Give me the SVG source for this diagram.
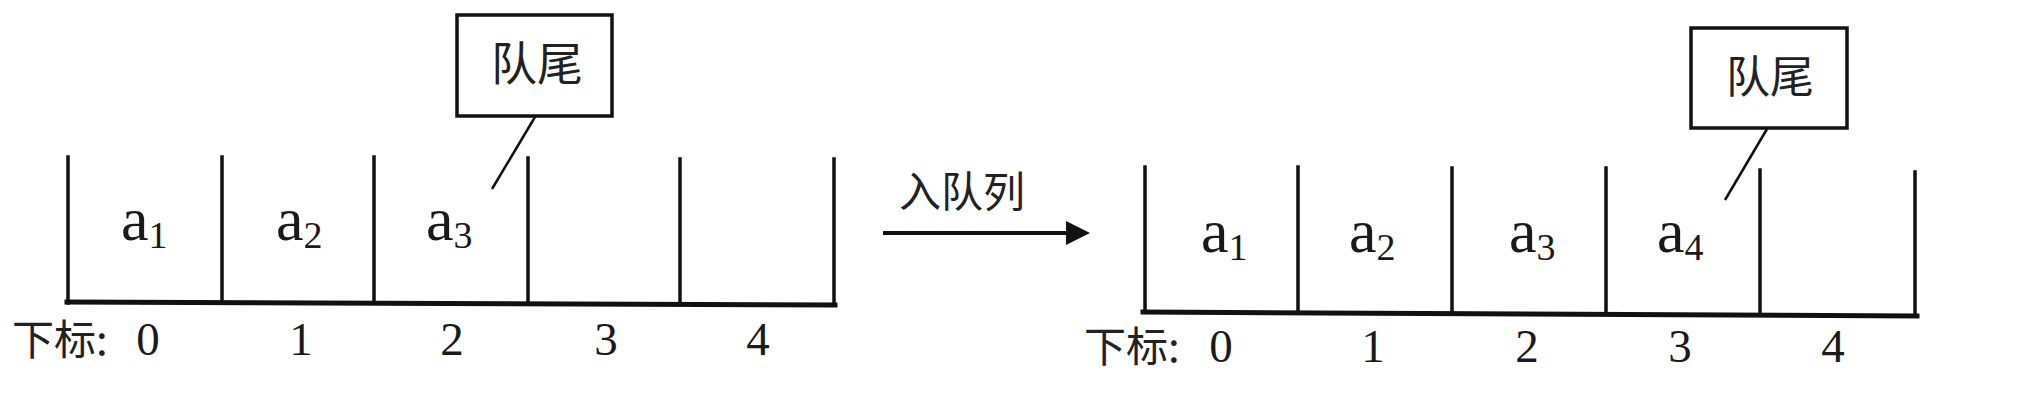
<svg xmlns="http://www.w3.org/2000/svg" width="2035" height="411" viewBox="0 0 2035 411">
  <style>
    .ln { stroke: #111; fill: none; stroke-linecap: square; }
    .wall { stroke-width: 3.5; }
    .base { stroke-width: 5; }
    .box { fill: #fff; stroke: #111; stroke-width: 3.5; }
    .ptr { stroke: #111; stroke-width: 2.5; fill: none; }
    .cjk { font-family: "Noto Sans CJK SC", "Noto Sans", sans-serif; fill: #222; }
    .el { font-family: "Liberation Serif", "Times New Roman", serif; font-size: 62px; fill: #1a1a1a; }
    .el tspan.s { font-size: 38px; }
    .idx { font-family: "Liberation Serif", "Times New Roman", serif; font-size: 47px; fill: #1a1a1a; text-anchor: middle; }
  </style>
  <defs>
    <marker id="ah" markerWidth="8" markerHeight="6" refX="1" refY="3" orient="auto" markerUnits="strokeWidth">
      <path d="M0,0 L6,3 L0,6 Z" fill="#111"/>
    </marker>
  </defs>

  <rect width="2035" height="411" fill="#fff"/>

  <!-- Left queue (before) -->
  <g id="queue-before">
    <path class="ln base" d="M67,302 L835,305"/>
    <path class="ln wall" d="M68,157 V303 M222,157 V303 M374,157 V303 M528,158 V304 M680,159 V304 M834,159 V305"/>
    <text class="el" x="121" y="240">a<tspan class="s" dy="8">1</tspan></text>
    <text class="el" x="276" y="240">a<tspan class="s" dy="8">2</tspan></text>
    <text class="el" x="426" y="240">a<tspan class="s" dy="8">3</tspan></text>
    <text class="cjk" x="12" y="355" font-size="42">下标:</text>
    <text class="idx" x="148" y="355">0</text>
    <text class="idx" x="301" y="355">1</text>
    <text class="idx" x="452" y="355">2</text>
    <text class="idx" x="606" y="355">3</text>
    <text class="idx" x="758" y="355">4</text>
  </g>

  <g id="tail-before">
    <rect class="box" x="457" y="15" width="155" height="101"/>
    <text class="cjk" x="537" y="80" font-size="46" text-anchor="middle">队尾</text>
  </g>

  <!-- Right queue (after) -->
  <g id="queue-after">
    <path class="ln base" d="M1143,312 L1917,316"/>
    <path class="ln wall" d="M1145,167 V312 M1298,167 V313 M1452,168 V313 M1606,168 V314 M1760,170 V315 M1915,172 V316"/>
    <text class="el" x="1201" y="252">a<tspan class="s" dy="8">1</tspan></text>
    <text class="el" x="1349" y="252">a<tspan class="s" dy="8">2</tspan></text>
    <text class="el" x="1509" y="252">a<tspan class="s" dy="8">3</tspan></text>
    <text class="el" x="1657" y="252">a<tspan class="s" dy="8">4</tspan></text>
    <text class="cjk" x="1084" y="362" font-size="42">下标:</text>
    <text class="idx" x="1221" y="362">0</text>
    <text class="idx" x="1373" y="362">1</text>
    <text class="idx" x="1527" y="362">2</text>
    <text class="idx" x="1680" y="362">3</text>
    <text class="idx" x="1833" y="362">4</text>
  </g>

  <g id="tail-after">
    <rect class="box" x="1691" y="28" width="156" height="100"/>
    <text class="cjk" x="1770" y="93" font-size="44" text-anchor="middle">队尾</text>
  </g>

  <g id="enqueue-label">
    <text class="cjk" x="899" y="207" font-size="42">入队列</text>
  </g>

  <!-- Connectors -->
  <g id="connectors">
    <line class="ptr" x1="535" y1="117" x2="492" y2="189"/>
    <line class="ptr" x1="1767" y1="129" x2="1725" y2="200"/>
    <line x1="883" y1="233" x2="1070" y2="233" stroke="#111" stroke-width="4" marker-end="url(#ah)"/>
  </g>
</svg>
